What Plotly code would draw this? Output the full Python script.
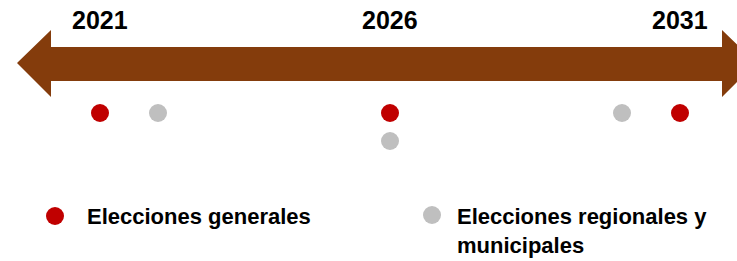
import plotly.graph_objects as go

# ---- data ----
tick_years = [2021, 2026, 2031]
tick_labels = ["2021", "2026", "2031"]
general_years = [2021, 2026, 2031]
regional_years = [2022, 2026, 2030]
legend_labels = ["Elecciones generales", "Elecciones regionales y<br>municipales"]

W, H = 737, 261
RED = "#C00000"
GRAY = "#BFBFBF"
BROWN = "#843C0C"
FONT = "Liberation Sans"

# pixel mapping helpers (for layout decoration only)
def px(x):
    return x / W

def py(y):
    return 1 - y / H

fig = go.Figure()

# dots: general on first row, regional on first row unless the year is shared
row0, row_gap = 113, 28
reg_y = [row0 + (row_gap if yr in general_years else 0) for yr in regional_years]
fig.add_trace(go.Scatter(x=general_years, y=[row0] * len(general_years), mode="markers",
                         marker=dict(size=18, color=RED), cliponaxis=False, showlegend=False))
fig.add_trace(go.Scatter(x=regional_years, y=reg_y, mode="markers",
                         marker=dict(size=18, color=GRAY), cliponaxis=False, showlegend=False))

# double-headed arrow
pts = [(17, 63), (51, 30), (51, 47), (722, 47), (722, 30), (756, 63),
       (722, 97), (722, 81), (51, 81), (51, 97)]
path = "M " + " L ".join(f"{px(a):.5f},{py(b):.5f}" for a, b in pts) + " Z"
shapes = [dict(type="path", path=path, xref="paper", yref="paper",
               fillcolor=BROWN, line=dict(width=0), layer="below")]

annotations = []
for yr, lab in zip(tick_years, tick_labels):
    annotations.append(dict(x=yr, y=20, xref="x", yref="y", text=f"<b>{lab}</b>",
                            showarrow=False, font=dict(family=FONT, size=25, color="black"),
                            xanchor="center", yanchor="middle"))

# legend (manual)
leg = [(55, 216, RED, 85, 216, legend_labels[0]),
       (432, 215, GRAY, 455, 231, legend_labels[1])]
for cx, cy, col, tx, ty, txt in leg:
    r = 9
    shapes.append(dict(type="circle", xref="paper", yref="paper",
                       x0=px(cx - r), x1=px(cx + r), y0=py(cy + r), y1=py(cy - r),
                       fillcolor=col, line=dict(width=0)))
    annotations.append(dict(x=px(tx), y=py(ty), xref="paper", yref="paper",
                            text=f"<b>{txt}</b>", showarrow=False, align="left",
                            font=dict(family=FONT, size=22, color="black"),
                            xanchor="left", yanchor="middle"))

x0 = 2021 - 100 / 58
x1 = 2021 + (W - 100) / 58
fig.update_layout(
    width=W, height=H, margin=dict(l=0, r=0, t=0, b=0),
    paper_bgcolor="white", plot_bgcolor="white",
    xaxis=dict(range=[x0, x1], visible=False, fixedrange=True),
    yaxis=dict(range=[H, 0], visible=False, fixedrange=True),
    shapes=shapes, annotations=annotations,
)
fig.write_html("out.html", config={"displayModeBar": False},
               post_script="document.body.style.margin='0';document.body.style.overflow='hidden';")
